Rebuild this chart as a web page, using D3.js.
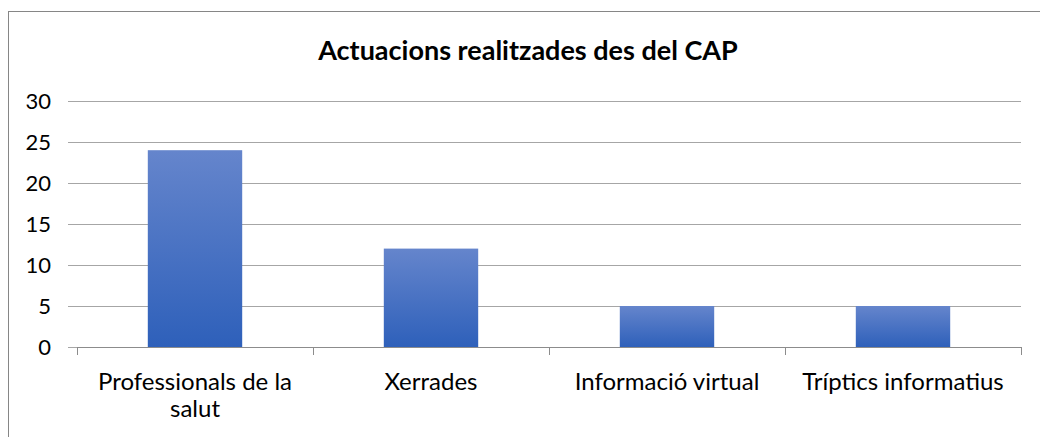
<!DOCTYPE html>
<html>
<head>
<meta charset="utf-8">
<title>Actuacions realitzades des del CAP</title>
<style>
body {
  margin: 0;
  background: white;
}
svg {
  display: block;
  font-family: Lato, "Open Sans", sans-serif;
}
.grid line {
  stroke: #a6a6a6;
  stroke-width: 1px;
  shape-rendering: crispEdges;
}
.axis path, .axis line {
  stroke: #8c8c8c;
  shape-rendering: crispEdges;
}
.axis text {
  fill: #000;
}
</style>
<script src="https://d3js.org/d3.v7.min.js"></script>
</head>
<body>
<svg width="1040" height="437"></svg>
<script>
const title = 'Actuacions realitzades des del CAP';
const categories = ['Professionals de la salut', 'Xerrades', 'Informació virtual', 'Tríptics informatius'];
const labelLines = [['Professionals de la', 'salut'], ['Xerrades'], ['Informació virtual'], ['Tríptics informatius']];
const values = [24, 12, 5, 5];
const yTicks = [0, 5, 10, 15, 20, 25, 30];

const svg = d3.select('svg');
const margin = { top: 101, right: 19, bottom: 90, left: 77 };
const width = 1040 - margin.left - margin.right;
const height = 437 - margin.top - margin.bottom;

// chart frame
svg.append('rect')
  .attr('x', 8.5).attr('y', 11.5)
  .attr('width', 1060).attr('height', 460)
  .attr('fill', 'white')
  .attr('stroke', '#868686');

svg.append('text')
  .attr('x', 528).attr('y', 60)
  .attr('text-anchor', 'middle')
  .attr('font-weight', 'bold')
  .attr('font-size', 27)
  .text(title);

const defs = svg.append('defs');
const grad = defs.append('linearGradient')
  .attr('id', 'barGrad')
  .attr('x1', 0).attr('y1', 0).attr('x2', 0).attr('y2', 1);
grad.append('stop').attr('offset', '0%').attr('stop-color', '#6585cc');
grad.append('stop').attr('offset', '100%').attr('stop-color', '#2e60ba');

const g = svg.append('g').attr('transform', `translate(${margin.left},${margin.top})`);

const x = d3.scaleBand().domain(categories).range([0, width]).paddingInner(0.6).paddingOuter(0.3);
const y = d3.scaleLinear().domain([0, 30]).range([height, 0]);

// gridlines
g.append('g')
  .attr('class', 'grid')
  .selectAll('line')
  .data(yTicks)
  .enter().append('line')
  .attr('x1', -9).attr('x2', width)
  .attr('y1', d => Math.round(y(d)) + 0.5)
  .attr('y2', d => Math.round(y(d)) + 0.5);

// y labels
g.append('g')
  .selectAll('text')
  .data(yTicks)
  .enter().append('text')
  .attr('x', -26)
  .attr('y', d => y(d) + 8)
  .attr('text-anchor', 'end')
  .attr('font-size', 22)
  .text(d => d);

// bars
g.selectAll('.bar')
  .data(values)
  .enter().append('rect')
  .attr('class', 'bar')
  .attr('x', (d, i) => x(categories[i]))
  .attr('y', d => y(d))
  .attr('width', x.bandwidth())
  .attr('height', d => height - y(d))
  .attr('fill', 'url(#barGrad)');

// x axis with category boundary ticks
const step = width / categories.length;
const bounds = d3.range(categories.length + 1).map(i => i * step);
const xAxis = g.append('g').attr('class', 'axis').attr('transform', `translate(0,${height})`);
xAxis.append('line')
  .attr('x1', 0).attr('x2', width)
  .attr('y1', 0.5).attr('y2', 0.5);
xAxis.selectAll('.tick')
  .data(bounds)
  .enter().append('line')
  .attr('x1', d => Math.round(d) + 0.5).attr('x2', d => Math.round(d) + 0.5)
  .attr('y1', 0).attr('y2', 8);

const labels = xAxis.selectAll('.lab')
  .data(categories)
  .enter().append('text')
  .attr('class', 'lab')
  .attr('text-anchor', 'middle')
  .attr('font-size', 24)
  .attr('transform', d => `translate(${x(d) + x.bandwidth() / 2},0)`);
labels.selectAll('tspan')
  .data((d, i) => labelLines[i])
  .enter().append('tspan')
  .attr('x', 0)
  .attr('y', (d, i) => 43 + i * 27)
  .text(d => d);
</script>
</body>
</html>
